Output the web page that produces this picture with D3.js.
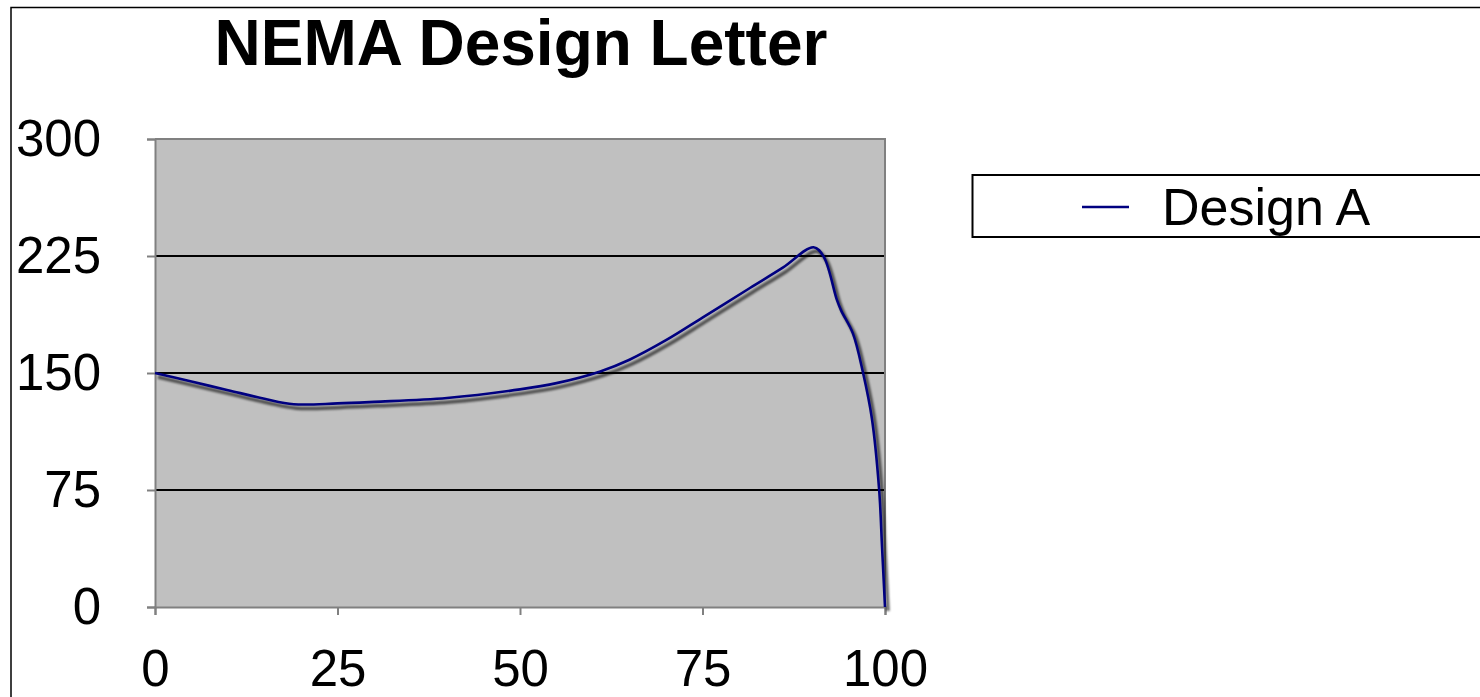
<!DOCTYPE html>
<html>
<head>
<meta charset="utf-8">
<script src="https://cdn.jsdelivr.net/npm/d3@7"></script>
<style>
  html, body { margin: 0; padding: 0; background: #fff; }
  svg { display: block; }
  text { font-family: "Liberation Sans", Arial, sans-serif; fill: #000; }
</style>
</head>
<body>
<script>
// Torque vs. speed, both in percent of rated values
const speedPct  = [0, 5, 10, 15, 19, 25, 30, 40, 50, 55, 61, 65, 70, 75, 81.5, 86, 90.2, 91.6, 93.4, 94, 95.6, 97, 98.2, 99.2, 99.6, 100];
const torquePct = [150, 144.5, 139, 133.5, 130, 130.5, 131.5, 134, 139.5, 143.5, 151, 158.5, 171, 185.5, 204.5, 217.5, 230.6, 224.6, 197, 190, 175.4, 150, 121, 75, 38, 0];
const xTicks = [0, 25, 50, 75, 100];
const yTicks = [0, 75, 150, 225, 300];
const seriesName = "Design A";
const titleText = "NEMA Design Letter";

const W = 1480, H = 697;
const plot = { left: 155, right: 885, top: 139, bottom: 607 };

const svg = d3.select("body").append("svg")
  .attr("width", W).attr("height", H);

// soft drop shadow under the series line
const defs = svg.append("defs");
defs.append("filter").attr("id", "lineShadow")
  .attr("x", "-10%").attr("y", "-10%").attr("width", "120%").attr("height", "120%")
  .append("feGaussianBlur").attr("stdDeviation", 1.3);

// outer chart frame
svg.append("rect")
  .attr("x", 11).attr("y", 7.5)
  .attr("width", W + 20).attr("height", H + 20)
  .attr("fill", "none").attr("stroke", "#000").attr("stroke-width", 1.5);

const x = d3.scaleLinear().domain([0, 100]).range([plot.left, plot.right]);
const y = d3.scaleLinear().domain([0, 300]).range([plot.bottom, plot.top]);

// plot area background
svg.append("rect")
  .attr("x", plot.left).attr("y", plot.top)
  .attr("width", plot.right - plot.left).attr("height", plot.bottom - plot.top)
  .attr("fill", "#c0c0c0");

// horizontal gridlines
svg.append("g")
  .selectAll("line")
  .data(yTicks.filter(v => v > 0 && v < 300))
  .join("line")
  .attr("x1", plot.left + 1).attr("x2", plot.right - 1)
  .attr("y1", d => y(d)).attr("y2", d => y(d))
  .attr("stroke", "#000").attr("stroke-width", 2);

// plot border (top and right)
svg.append("path")
  .attr("d", `M${plot.left},${plot.top}H${plot.right}V${plot.bottom}`)
  .attr("fill", "none").attr("stroke", "#808080").attr("stroke-width", 2);

// axes
const yAxis = svg.append("g")
  .attr("transform", `translate(${plot.left},0)`)
  .call(d3.axisLeft(y).tickValues(yTicks).tickSize(8).tickPadding(46));
const xAxis = svg.append("g")
  .attr("transform", `translate(0,${plot.bottom})`)
  .call(d3.axisBottom(x).tickValues(xTicks).tickSize(8).tickPadding(35));

[yAxis, xAxis].forEach(g => {
  g.select(".domain").attr("stroke", "#808080").attr("stroke-width", 2);
  g.selectAll(".tick line").attr("stroke", "#808080").attr("stroke-width", 2);
  g.selectAll(".tick text")
    .attr("font-family", "\"Liberation Sans\", Arial, sans-serif")
    .attr("font-size", 51).attr("fill", "#000");
});

// series line with shadow
const pts = speedPct.map((s, i) => [s, torquePct[i]]);
const line = d3.line()
  .x(d => x(d[0])).y(d => y(d[1]))
  .curve(d3.curveCatmullRom.alpha(0.5));

svg.append("path")
  .datum(pts)
  .attr("d", line)
  .attr("transform", "translate(3,4)")
  .attr("fill", "none").attr("stroke", "#000")
  .attr("stroke-width", 3.5).attr("opacity", 0.6)
  .attr("filter", "url(#lineShadow)");

svg.append("path")
  .datum(pts)
  .attr("d", line)
  .attr("fill", "none").attr("stroke", "#000080")
  .attr("stroke-width", 2.6).attr("stroke-linejoin", "round");

// title
svg.append("text")
  .attr("x", (plot.left + plot.right) / 2 + 1).attr("y", 65)
  .attr("text-anchor", "middle")
  .attr("font-size", 64).attr("font-weight", "bold")
  .text(titleText);

// legend
const legend = svg.append("g");
legend.append("rect")
  .attr("x", 972.5).attr("y", 175)
  .attr("width", 600).attr("height", 62)
  .attr("fill", "#fff").attr("stroke", "#000").attr("stroke-width", 2);
legend.append("line")
  .attr("x1", 1082).attr("x2", 1129).attr("y1", 207).attr("y2", 207)
  .attr("stroke", "#000080").attr("stroke-width", 2.5);
legend.append("text")
  .attr("x", 1162).attr("y", 225)
  .attr("font-size", 52)
  .text(seriesName);
</script>
</body>
</html>
